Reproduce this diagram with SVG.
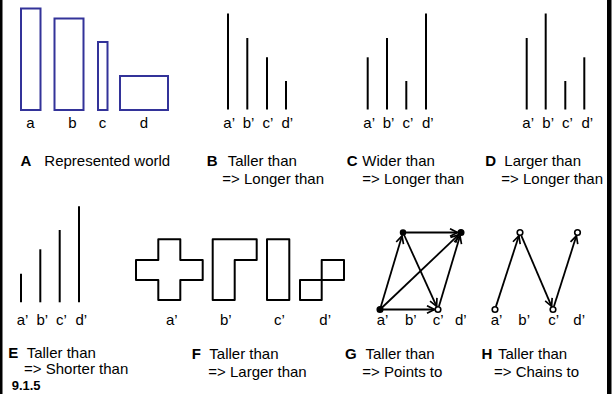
<svg xmlns="http://www.w3.org/2000/svg" width="614" height="394" viewBox="0 0 614 394">
<style>
text{font-family:"Liberation Sans",Arial,sans-serif;font-size:15px;fill:#000}
.b{font-weight:bold}
.num{font-weight:bold;font-size:13px}
.world{fill:none;stroke:#333399;stroke-width:2}
.bar{stroke:#000;stroke-width:2}
.shape{fill:none;stroke:#000;stroke-width:2;stroke-linejoin:round}
.edge{stroke:#000;stroke-width:1.8;fill:none;marker-end:url(#arr)}
.dot{fill:#000;stroke:#000;stroke-width:1.5}
.ring{fill:#fff;stroke:#000;stroke-width:1.6}
</style>
<defs>
<marker id="arr" markerUnits="userSpaceOnUse" markerWidth="12" markerHeight="12" refX="9" refY="5" orient="auto">
<path d="M1.5,1.2 L9,5 L1.5,8.8" fill="none" stroke="#000" stroke-width="1.7"/>
</marker>
</defs>
<rect x="0" y="0" width="614" height="394" fill="#fff"/>
<rect x="0" y="0" width="2.5" height="394" fill="#000"/>
<rect x="607" y="0" width="4.5" height="394" fill="#000"/>

<g id="panelA">
<rect class="world" x="21" y="8.5" width="19.5" height="101.5"/>
<rect class="world" x="54.5" y="18.5" width="29" height="91.5"/>
<rect class="world" x="98" y="42" width="9.5" height="68"/>
<rect class="world" x="120" y="76" width="48" height="34"/>
<text x="30.5" y="128" text-anchor="middle">a</text>
<text x="72.5" y="128" text-anchor="middle">b</text>
<text x="102.5" y="128" text-anchor="middle">c</text>
<text x="144" y="128" text-anchor="middle">d</text>
<text class="b" x="20.5" y="166">A</text>
<text x="44.3" y="166">Represented world</text>
</g>

<g id="panelB">
<line class="bar" x1="228" y1="13.5" x2="228" y2="109.5"/>
<line class="bar" x1="247.3" y1="38" x2="247.3" y2="109.5"/>
<line class="bar" x1="267" y1="57.3" x2="267" y2="109.5"/>
<line class="bar" x1="286" y1="81" x2="286" y2="109.5"/>
<text x="223.3" y="128">a’</text>
<text x="242.7" y="128">b’</text>
<text x="262.5" y="128">c’</text>
<text x="281.5" y="128">d’</text>
<text class="b" x="206.7" y="166">B</text>
<text x="227.7" y="166">Taller than</text>
<text x="222.3" y="184">=&gt; Longer than</text>
</g>

<g id="panelC">
<line class="bar" x1="367.7" y1="57.3" x2="367.7" y2="109.5"/>
<line class="bar" x1="387" y1="38" x2="387" y2="109.5"/>
<line class="bar" x1="406.3" y1="81" x2="406.3" y2="109.5"/>
<line class="bar" x1="426" y1="13.5" x2="426" y2="109.5"/>
<text x="363.3" y="128">a’</text>
<text x="382.7" y="128">b’</text>
<text x="402.5" y="128">c’</text>
<text x="422" y="128">d’</text>
<text class="b" x="346.7" y="166">C</text>
<text x="362.3" y="166">Wider than</text>
<text x="362.3" y="184">=&gt; Longer than</text>
</g>

<g id="panelD">
<line class="bar" x1="526.7" y1="38" x2="526.7" y2="109.5"/>
<line class="bar" x1="545.7" y1="13.5" x2="545.7" y2="109.5"/>
<line class="bar" x1="565.3" y1="81" x2="565.3" y2="109.5"/>
<line class="bar" x1="584.3" y1="57.3" x2="584.3" y2="109.5"/>
<text x="522.3" y="128">a’</text>
<text x="542.3" y="128">b’</text>
<text x="562" y="128">c’</text>
<text x="581.5" y="128">d’</text>
<text class="b" x="485.3" y="166">D</text>
<text x="504.3" y="166">Larger than</text>
<text x="501.3" y="184">=&gt; Longer than</text>
</g>

<g id="panelE">
<line class="bar" x1="21" y1="273.7" x2="21" y2="302.3"/>
<line class="bar" x1="40.3" y1="249.3" x2="40.3" y2="302.3"/>
<line class="bar" x1="59.7" y1="230" x2="59.7" y2="302.3"/>
<line class="bar" x1="79" y1="206.3" x2="79" y2="302.3"/>
<text x="16.7" y="325">a’</text>
<text x="36.5" y="325">b’</text>
<text x="56" y="325">c’</text>
<text x="75.5" y="325">d’</text>
<text class="b" x="8.3" y="357.5">E</text>
<text x="26.7" y="357.5">Taller than</text>
<text x="24" y="374">=&gt; Shorter than</text>
<text class="num" x="11.7" y="390">9.1.5</text>
</g>

<g id="panelF">
<path class="shape" d="M158.3,239.3 H180.3 V260 H202.7 V280 H180.3 V300 H158.3 V280 H136 V260 H158.3 Z"/>
<path class="shape" d="M212.7,239.3 H256.7 V260 H234.7 V300 H212.7 Z"/>
<rect class="shape" x="267" y="239.3" width="22.3" height="60.7"/>
<rect class="shape" x="300" y="280" width="21.7" height="20"/>
<rect class="shape" x="321.7" y="260" width="22.3" height="20"/>
<text x="166" y="325">a’</text>
<text x="220" y="325">b’</text>
<text x="274" y="325">c’</text>
<text x="319.3" y="325">d’</text>
<text class="b" x="191.7" y="358.5">F</text>
<text x="209.3" y="358.5">Taller than</text>
<text x="208.3" y="376.5">=&gt; Larger than</text>
</g>

<g id="connectors">
<line class="edge" x1="380" y1="309.5" x2="402" y2="235.9"/>
<line class="edge" x1="403" y1="232.5" x2="457.5" y2="232.5"/>
<line class="edge" x1="380" y1="309.5" x2="458.5" y2="234.9"/>
<line class="edge" x1="380" y1="309.5" x2="434.5" y2="309.5"/>
<line class="edge" x1="403" y1="232.5" x2="436.6" y2="306.3"/>
<line class="edge" x1="438.9" y1="306.6" x2="460" y2="235.9"/>
<line class="edge" x1="495.9" y1="306.6" x2="518.9" y2="235.8"/>
<line class="edge" x1="521.2" y1="235.3" x2="551.6" y2="306.3"/>
<line class="edge" x1="553.9" y1="306.6" x2="576.4" y2="235.8"/>
</g>

<g id="panelG">
<circle class="dot" cx="380" cy="309.5" r="2.8"/>
<circle class="dot" cx="403" cy="232.5" r="2.5"/>
<circle class="dot" cx="461" cy="232.5" r="2.8"/>
<circle class="ring" cx="438" cy="309.5" r="2.8"/>
<text x="376.7" y="325">a’</text>
<text x="405" y="325">b’</text>
<text x="432.7" y="325">c’</text>
<text x="455" y="325">d’</text>
<text class="b" x="345" y="358.5">G</text>
<text x="365.5" y="358.5">Taller than</text>
<text x="362.3" y="376.5">=&gt; Points to</text>
</g>

<g id="panelH">
<circle class="ring" cx="495" cy="309.5" r="2.8"/>
<circle class="ring" cx="520" cy="232.5" r="2.8"/>
<circle class="ring" cx="553" cy="309.5" r="2.8"/>
<circle class="ring" cx="577.5" cy="232.5" r="2.8"/>
<text x="490.7" y="325">a’</text>
<text x="518.3" y="325">b’</text>
<text x="548.3" y="325">c’</text>
<text x="573.3" y="325">d’</text>
<text class="b" x="481.5" y="358.5">H</text>
<text x="498" y="358.5">Taller than</text>
<text x="494" y="376.5">=&gt; Chains to</text>
</g>
</svg>
